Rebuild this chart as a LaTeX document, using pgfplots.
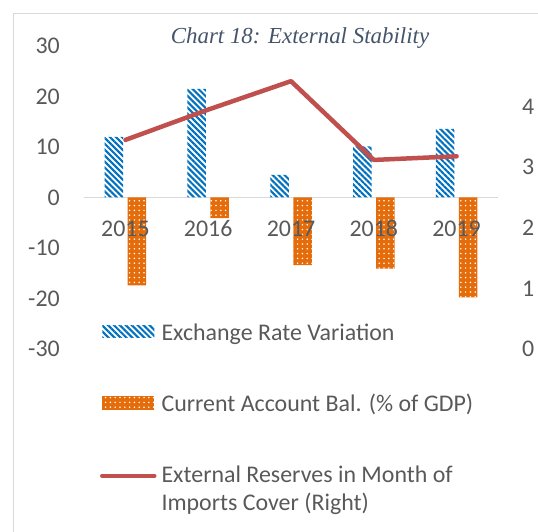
\documentclass[border=0pt]{standalone}
\usepackage{pgfplots}
\pgfplotsset{compat=1.18}
\usepackage{fontspec}
\setmainfont{Carlito}
\newfontfamily\titlefont{Liberation Serif}
\usetikzlibrary{patterns.meta}
\definecolor{ervblue}{HTML}{0070C0}
\definecolor{caorange}{HTML}{E46C0A}
\definecolor{resred}{HTML}{C0504D}
\definecolor{ticktext}{HTML}{595959}
\definecolor{titlecol}{HTML}{44546A}
\definecolor{framegray}{HTML}{D9D9D9}
\tikzset{
 ervstyle/.style={draw=none, fill=white, postaction={draw=none, pattern={Lines[angle=-45,distance=4.2bp,line width=2.1bp]}, pattern color=ervblue}},
 castyle/.style={draw=none, fill=caorange, postaction={draw=none, pattern={Dots[distance=4.8bp,radius=0.85bp]}, pattern color=white}},
}
\begin{document}
\begin{tikzpicture}[font=\fontsize{24}{28}\selectfont]
\draw[framegray, line width=1bp] (13bp,-5bp) -- (13bp,518bp) -- (560bp,518bp);
\node[titlecol, anchor=base, inner sep=0pt, font=\titlefont\itshape\fontsize{23}{28}\selectfont] at (300bp,488.7bp) {Chart 18: External Stability};
\begin{axis}[
 at={(84bp,183bp)}, anchor=south west, scale only axis, width=414bp, height=303bp,
 xmin=-0.5, xmax=4.5, ymin=-30, ymax=30,
 xtick={0,1,2,3,4}, xticklabels={2015,2016,2017,2018,2019},
 ytick={-30,-20,-10,0,10,20,30}, yticklabels={-30,-20,-10,0,10,20,30},
 axis line style={draw=none}, major tick length=0pt, axis on top,
 tick label style={text=ticktext, font=\fontsize{24}{28}\selectfont, inner sep=0pt},
 xticklabel style={anchor=base, yshift=112.3bp},
 yticklabel style={anchor=east, xshift=-24bp},
 clip=false,
]
\draw[framegray, line width=1bp] (axis cs:-0.5,0) -- (axis cs:4.5,0);
\addplot[ybar, bar width=18.5bp, bar shift=-11.5bp, ervstyle] coordinates {(0,12.0)(1,21.5)(2,4.5)(3,10.1)(4,13.6)};
\addplot[ybar, bar width=18.5bp, bar shift=11.5bp, castyle] coordinates {(0,-17.4)(1,-4.1)(2,-13.4)(3,-14.1)(4,-19.8)};
\end{axis}
\begin{axis}[
 at={(84bp,183bp)}, anchor=south west, scale only axis, width=414bp, height=303bp,
 xmin=-0.5, xmax=4.5, ymin=0, ymax=5,
 axis x line=none, axis y line*=right,
 ytick={0,1,2,3,4}, yticklabels={0,1,2,3,4},
 axis line style={draw=none}, major tick length=0pt,
 tick label style={text=ticktext, font=\fontsize{24}{28}\selectfont, inner sep=0pt},
 yticklabel style={anchor=west, xshift=24bp},
 clip=false,
 legend cell align=left,
 legend style={at={(axis description cs:0.0387,0.0924)}, anchor=north west, draw=none, fill=none,
   inner sep=0pt, outer sep=0pt, row sep=50bp, column sep=5bp, text=ticktext,
   font=\fontsize{24}{28}\selectfont, nodes={inner sep=0pt, outer sep=0pt}},
]
\addlegendimage{legend image code/.code={\path[ervstyle] (2bp,-6bp) rectangle (54bp,6bp);}}
\addlegendentry{Exchange Rate Variation\strut}
\addlegendimage{legend image code/.code={\path[castyle] (2bp,-7bp) rectangle (54bp,7bp);}}
\addlegendentry{Current Account Bal. (\% of GDP)\strut}
\addplot[resred, line width=4.5bp, line join=round, line cap=round, legend image code/.code={\draw[resred, line width=4.5bp, line cap=round] (2bp,5bp) -- (54bp,5bp);}] coordinates {(0,3.45)(1,3.95)(2,4.42)(3,3.12)(4,3.18)};
\addlegendentry{\begin{tabular}{@{}l@{}}External Reserves in Month of\\Imports Cover (Right)\end{tabular}}
\end{axis}
\pgfresetboundingbox
\path[use as bounding box] (0bp,0bp) rectangle (538bp,532bp);
\end{tikzpicture}
\end{document}
